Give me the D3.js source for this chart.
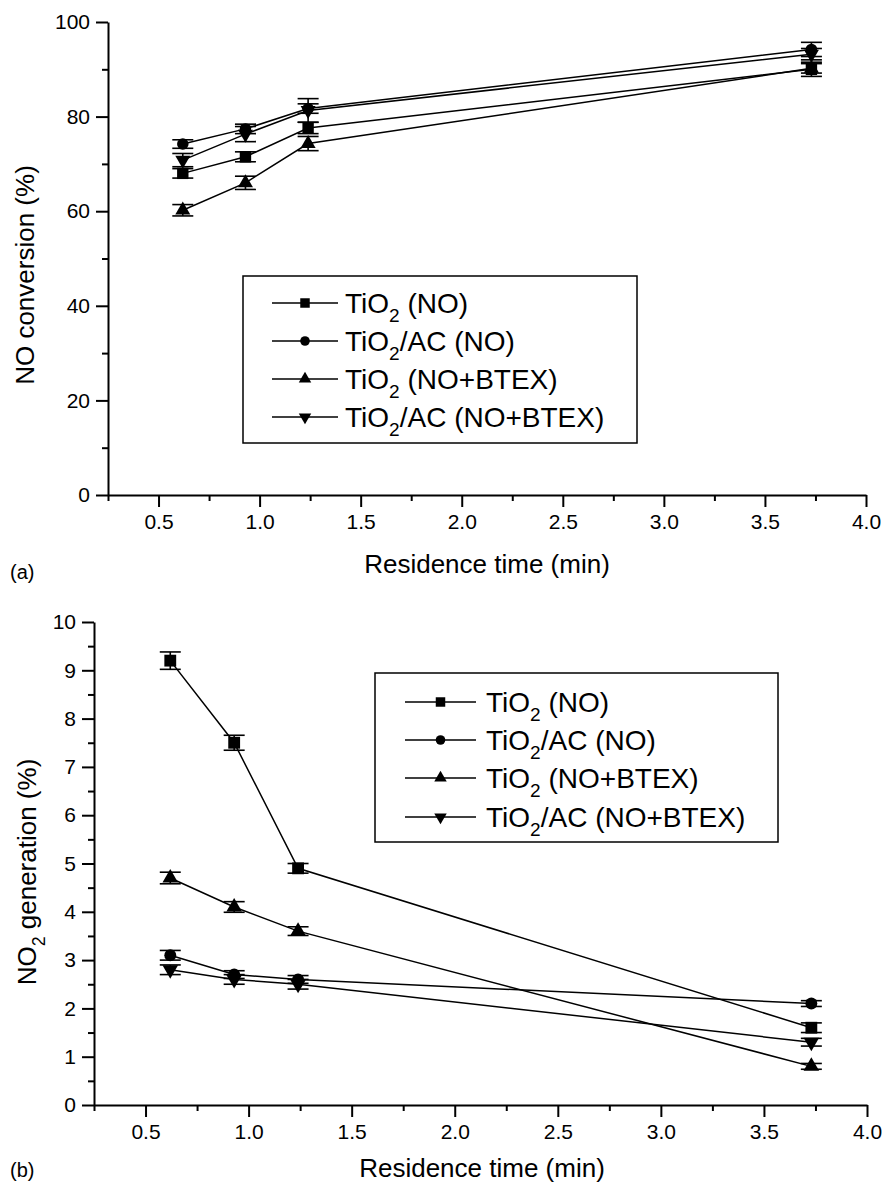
<!DOCTYPE html>
<html>
<head>
<meta charset="utf-8">
<script src="https://cdn.jsdelivr.net/npm/d3@7"></script>
<style>
  html, body { margin: 0; padding: 0; background: #fff; }
  svg { display: block; font-family: "Liberation Sans", Arial, sans-serif; }
</style>
</head>
<body>
<svg width="887" height="1188"></svg>
<script>
// residence time (min) shared by both panels
const residenceTime = [0.62, 0.93, 1.24, 3.73];

// legend labels: [main text, subscript, rest]
const seriesLabels = [
  ["TiO", "2", " (NO)"],
  ["TiO", "2", "/AC (NO)"],
  ["TiO", "2", " (NO+BTEX)"],
  ["TiO", "2", "/AC (NO+BTEX)"]
];
const seriesSymbols = ["square", "circle", "triangle", "triangleDown"];

// (a) NO conversion (%)
const noTiO2 = [68.0, 71.5, 77.6, 90.0];
const noTiO2AC = [74.2, 77.4, 81.7, 94.2];
const noTiO2Btex = [60.2, 66.0, 74.3, 90.2];
const noTiO2ACBtex = [70.8, 76.3, 81.3, 93.2];
const noTiO2Err = [1.0, 1.05, 1.2, 1.5];
const noTiO2ACErr = [0.9, 1.0, 1.0, 1.5];
const noTiO2BtexErr = [1.2, 1.4, 1.5, 1.0];
const noTiO2ACBtexErr = [1.4, 1.6, 2.5, 1.2];

// (b) NO2 generation (%)
const no2TiO2 = [9.2, 7.5, 4.9, 1.6];
const no2TiO2AC = [3.1, 2.7, 2.6, 2.1];
const no2TiO2Btex = [4.7, 4.1, 3.6, 0.8];
const no2TiO2ACBtex = [2.8, 2.6, 2.5, 1.3];
const no2TiO2Err = [0.18, 0.155, 0.1, 0.1];
const no2TiO2ACErr = [0.1, 0.08, 0.08, 0.06];
const no2TiO2BtexErr = [0.12, 0.11, 0.09, 0.06];
const no2TiO2ACBtexErr = [0.1, 0.1, 0.1, 0.08];

const xTicks = [0.5, 1.0, 1.5, 2.0, 2.5, 3.0, 3.5, 4.0];
const xMinorTicks = [0.25, 0.75, 1.25, 1.75, 2.25, 2.75, 3.25, 3.75];

const svg = d3.select("svg");
const font = "\"Liberation Sans\", Arial, sans-serif";

function symbolPath(kind, size) {
  if (kind === "square") return d3.symbol(d3.symbolSquare, size)();
  if (kind === "circle") return d3.symbol(d3.symbolCircle, size * 0.8)();
  return d3.symbol(d3.symbolTriangle, size * 0.75)();
}

function drawMarker(g, kind, x, y, size) {
  const p = g.append("path")
    .attr("d", symbolPath(kind, size))
    .attr("fill", "#000");
  if (kind === "triangleDown") p.attr("transform", `translate(${x},${y}) rotate(180)`);
  else p.attr("transform", `translate(${x},${y})`);
}

function writeLabel(textSel, parts, size) {
  textSel.append("tspan").text(parts[0]);
  textSel.append("tspan").attr("font-size", size * 0.68).attr("dy", size * 0.33).text(parts[1]);
  textSel.append("tspan").attr("dy", -size * 0.33).text(parts[2]);
}

function drawPanel(cfg) {
  const g = svg.append("g");
  const x = d3.scaleLinear().domain([0.25, 4.0]).range(cfg.xRange);
  const y = d3.scaleLinear().domain(cfg.yDomain).range(cfg.yRange);

  // data lines, error bars, markers
  cfg.series.forEach((vals, i) => {
    const pts = residenceTime.map((t, j) => [x(t), y(vals[j])]);
    g.append("path")
      .attr("d", d3.line()(pts))
      .attr("fill", "none")
      .attr("stroke", "#000")
      .attr("stroke-width", 1.5);

    residenceTime.forEach((t, j) => {
      const cx = x(t);
      const hi = y(vals[j] + cfg.errors[i][j]);
      const lo = y(vals[j] - cfg.errors[i][j]);
      const eb = g.append("g").attr("stroke", "#000").attr("stroke-width", 1.6);
      eb.append("line").attr("x1", cx).attr("x2", cx).attr("y1", hi).attr("y2", lo);
      eb.append("line").attr("x1", cx - 10.5).attr("x2", cx + 10.5).attr("y1", hi).attr("y2", hi);
      eb.append("line").attr("x1", cx - 10.5).attr("x2", cx + 10.5).attr("y1", lo).attr("y2", lo);
      drawMarker(g, seriesSymbols[i], cx, y(vals[j]), cfg.markerSize);
    });
  });

  // axes
  const axisY0 = cfg.yRange[0];
  const axisX0 = cfg.xRange[0];

  const xAxis = g.append("g")
    .attr("transform", `translate(0,${axisY0})`)
    .call(d3.axisBottom(x).tickValues(xTicks).tickFormat(d3.format(".1f"))
      .tickSize(12).tickSizeOuter(0).tickPadding(7));
  g.append("g")
    .attr("transform", `translate(0,${axisY0})`)
    .call(d3.axisBottom(x).tickValues(xMinorTicks).tickFormat("").tickSize(6).tickSizeOuter(0))
    .call(s => s.select(".domain").remove());

  const yAxis = g.append("g")
    .attr("transform", `translate(${axisX0},0)`)
    .call(d3.axisLeft(y).tickValues(cfg.yTicks).tickFormat(d3.format("d"))
      .tickSize(12).tickSizeOuter(0).tickPadding(6));
  g.append("g")
    .attr("transform", `translate(${axisX0},0)`)
    .call(d3.axisLeft(y).tickValues(cfg.yMinorTicks).tickFormat("").tickSize(6).tickSizeOuter(0))
    .call(s => s.select(".domain").remove());

  g.selectAll(".domain, .tick line").attr("stroke", "#000").attr("stroke-width", 2);
  [xAxis, yAxis].forEach(a => a.selectAll("text")
    .attr("font-family", font).attr("font-size", 21).attr("fill", "#000"));

  // axis titles
  g.append("text")
    .attr("x", cfg.xTitlePos[0]).attr("y", cfg.xTitlePos[1])
    .attr("text-anchor", "middle").attr("dominant-baseline", "central")
    .attr("font-size", 26)
    .text("Residence time (min)");

  const yt = g.append("text")
    .attr("transform", `translate(${cfg.yTitlePos[0]},${cfg.yTitlePos[1]}) rotate(-90)`)
    .attr("text-anchor", "middle")
    .attr("font-size", 26);
  writeLabel(yt, cfg.yTitle, 26);

  g.append("text")
    .attr("x", 10).attr("y", cfg.panelLabelY)
    .attr("dominant-baseline", "central")
    .attr("font-size", 20)
    .text(cfg.panelLabel);

  // legend
  const lg = g.append("g");
  const [bx, by, bw, bh] = cfg.legendBox;
  lg.append("rect").attr("x", bx).attr("y", by).attr("width", bw).attr("height", bh)
    .attr("fill", "#fff").attr("stroke", "#000").attr("stroke-width", 1.5);
  seriesLabels.forEach((lab, i) => {
    const ly = cfg.legendRows[i];
    const [l0, l1] = cfg.legendLine;
    lg.append("line").attr("x1", l0).attr("x2", l1).attr("y1", ly).attr("y2", ly)
      .attr("stroke", "#000").attr("stroke-width", 1.5);
    drawMarker(lg, seriesSymbols[i], (l0 + l1) / 2, ly, 90);
    const t = lg.append("text")
      .attr("x", cfg.legendTextX).attr("y", ly + 10)
      .attr("font-size", 28);
    writeLabel(t, lab, 28);
  });
}

drawPanel({
  xRange: [108, 866],
  yRange: [495, 22],
  yDomain: [0, 100],
  yTicks: [0, 20, 40, 60, 80, 100],
  yMinorTicks: [10, 30, 50, 70, 90],
  series: [noTiO2, noTiO2AC, noTiO2Btex, noTiO2ACBtex],
  errors: [noTiO2Err, noTiO2ACErr, noTiO2BtexErr, noTiO2ACBtexErr],
  markerSize: 130,
  xTitlePos: [487, 564],
  yTitlePos: [34, 275],
  yTitle: ["NO conversion (%)", "", ""],
  panelLabel: "(a)",
  panelLabelY: 572,
  legendBox: [243, 276, 394, 167],
  legendRows: [303, 341, 379, 417],
  legendLine: [272, 338],
  legendTextX: 345
});

drawPanel({
  xRange: [94, 867],
  yRange: [1105, 622],
  yDomain: [0, 10],
  yTicks: [0, 1, 2, 3, 4, 5, 6, 7, 8, 9, 10],
  yMinorTicks: [0.5, 1.5, 2.5, 3.5, 4.5, 5.5, 6.5, 7.5, 8.5, 9.5],
  series: [no2TiO2, no2TiO2AC, no2TiO2Btex, no2TiO2ACBtex],
  errors: [no2TiO2Err, no2TiO2ACErr, no2TiO2BtexErr, no2TiO2ACBtexErr],
  markerSize: 140,
  xTitlePos: [482, 1168],
  yTitlePos: [36, 872],
  yTitle: ["NO", "2", " generation (%)"],
  panelLabel: "(b)",
  panelLabelY: 1170,
  legendBox: [375, 673, 403, 169],
  legendRows: [702, 740, 778, 817],
  legendLine: [405, 476],
  legendTextX: 486
});
</script>
</body>
</html>
